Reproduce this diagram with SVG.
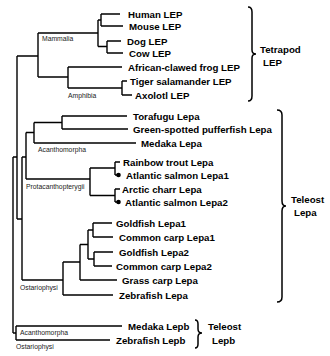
<svg xmlns="http://www.w3.org/2000/svg" width="330" height="356" viewBox="0 0 330 356">
<style>
.t{font-family:"Liberation Sans",Arial,sans-serif;font-weight:bold;font-size:9.7px;fill:#000}
.c{font-family:"Liberation Sans",Arial,sans-serif;font-size:6.8px;fill:#222}
.e{fill:none;stroke:#000;stroke-width:1.4}
.b{fill:none;stroke:#000;stroke-width:1.5}
</style>
<rect width="330" height="356" fill="#fff"/>
<g id="connectors">
<path class="e" d="M101,14V26M101,14H120M101,26H123"/>
<path class="e" d="M107,41V53M107,41H121M107,53H123"/>
<path class="e" d="M98,20V46.5M98,20H101M98,46.5H107"/>
<path class="e" d="M122,81V95M122,81H127M122,95H132"/>
<path class="e" d="M68,67V88M68,67H122M68,88H122"/>
<path class="e" d="M38,33V77M38,33H98M38,77H68"/>
<path class="e" d="M17,56V219M17,56H38"/>
<path class="e" d="M62,116V129M62,116H127M62,129H128"/>
<path class="e" d="M34,122.5V143M34,122.5H62M34,143H136"/>
<path class="e" d="M115,162V175M115,162H120M115,175H118"/>
<path class="e" d="M115,189V202M115,189H120M115,202H118"/>
<path class="e" d="M90,168V195.5M90,168H115M90,195.5H115"/>
<path class="e" d="M26,132.5V179M26,132.5H34M26,179H90"/>
<path class="e" d="M93,223V237M93,223H112M93,237H113"/>
<path class="e" d="M94,252V266M94,252H113M94,266H112"/>
<path class="e" d="M88,230V259M88,230H93M88,259H94"/>
<path class="e" d="M80,244.5V280M80,244.5H88M80,280H117"/>
<path class="e" d="M63,262V295M63,262H80M63,295H113"/>
<path class="e" d="M22,157V280M22,157H26M22,280H63M17,219H22"/>
<path class="e" d="M16,326V340M16,326H122M16,340H110"/>
<path class="e" d="M13,157V333M13,157H17M13,333H16"/>
<circle cx="118.5" cy="175" r="2.3" fill="#000"/>
<circle cx="118.5" cy="202" r="2.3" fill="#000"/>
</g>
<g id="human"><text class="t" x="128" y="17.5">Human LEP</text></g>
<g id="mouse"><text class="t" x="129" y="29.5">Mouse LEP</text></g>
<g id="dog"><text class="t" x="127" y="44.5">Dog LEP</text></g>
<g id="cow"><text class="t" x="129" y="56.5">Cow LEP</text></g>
<g id="frog"><text class="t" x="128" y="70.5">African-clawed frog LEP</text></g>
<g id="tiger"><text class="t" x="130" y="84.5">Tiger salamander LEP</text></g>
<g id="axolotl"><text class="t" x="135" y="98.5">Axolotl LEP</text></g>
<g id="torafugu"><text class="t" x="133" y="119.5">Torafugu Lepa</text></g>
<g id="green"><text class="t" x="133" y="132.5">Green-spotted pufferfish Lepa</text></g>
<g id="medaka-a"><text class="t" x="141" y="146.5">Medaka Lepa</text></g>
<g id="rainbow"><text class="t" x="123" y="165.5">Rainbow trout Lepa</text></g>
<g id="salmon1"><text class="t" x="126" y="178.5">Atlantic salmon Lepa1</text></g>
<g id="charr"><text class="t" x="122" y="192.5">Arctic charr Lepa</text></g>
<g id="salmon2"><text class="t" x="125" y="205.5">Atlantic salmon Lepa2</text></g>
<g id="goldfish1"><text class="t" x="116" y="226.5">Goldfish Lepa1</text></g>
<g id="carp1"><text class="t" x="119" y="240.5">Common carp Lepa1</text></g>
<g id="goldfish2"><text class="t" x="119" y="255.5">Goldfish Lepa2</text></g>
<g id="carp2"><text class="t" x="116" y="269.5">Common carp Lepa2</text></g>
<g id="grass"><text class="t" x="122" y="283.5">Grass carp Lepa</text></g>
<g id="zebra-a"><text class="t" x="119" y="298.5">Zebrafish Lepa</text></g>
<g id="medaka-b"><text class="t" x="128" y="329.5">Medaka Lepb</text></g>
<g id="zebra-b"><text class="t" x="116" y="343.5">Zebrafish Lepb</text></g>
<g id="clade-labels">
<text class="c" x="42" y="40.5">Mammalia</text>
<text class="c" x="68" y="97.5">Amphibia</text>
<text class="c" x="38" y="151.5">Acanthomorpha</text>
<text class="c" x="26" y="189">Protacanthopterygii</text>
<text class="c" x="20" y="289.5">Ostariophysi</text>
<text class="c" x="20" y="334.5">Acanthomorpha</text>
<text class="c" x="16" y="348.5">Ostariophysi</text>
</g>
<g id="tetrapod-lep">
<path class="b" d="M248,7Q252,7 252,12L252,50Q252,54 256,54Q252,54 252,58L252,96Q252,101 248,101"/>
<text class="t" x="260" y="53">Tetrapod</text>
<text class="t" x="263" y="65.5">LEP</text>
</g>
<g id="teleost-lepa">
<path class="b" d="M277,110Q282,110 282,115L282,201Q282,206 286,206Q282,206 282,211L282,297Q282,302 277,302"/>
<text class="t" x="291" y="203">Teleost</text>
<text class="t" x="294" y="215.5">Lepa</text>
</g>
<g id="teleost-lepb">
<path class="b" d="M195,320Q198,320 198,324L198,329Q198,333 202,333Q198,333 198,337L198,344Q198,348 195,348"/>
<text class="t" x="208" y="330">Teleost</text>
<text class="t" x="212" y="344">Lepb</text>
</g>
</svg>
